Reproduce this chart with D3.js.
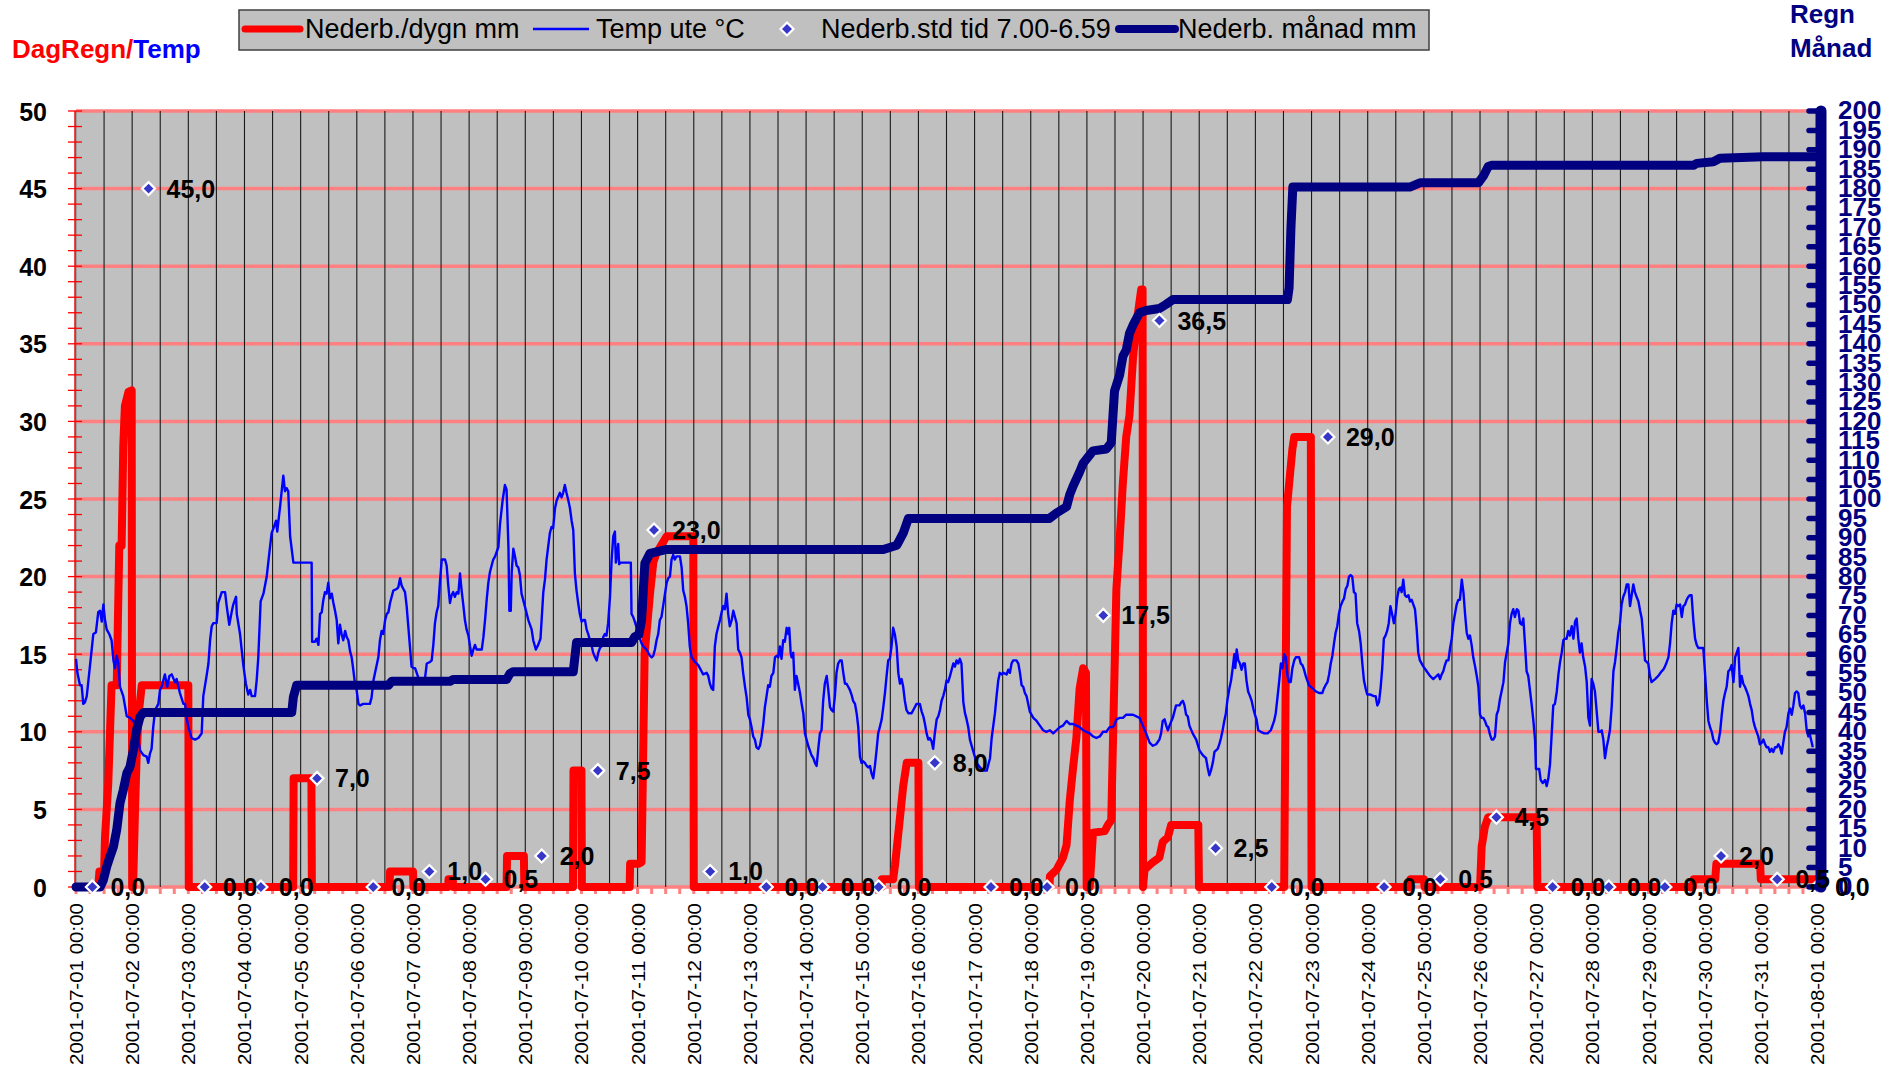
<!DOCTYPE html>
<html><head><meta charset="utf-8">
<script src="https://cdn.jsdelivr.net/npm/d3@7"></script>
<style>
body{margin:0;background:#fff}
svg{display:block}
text{font-family:Arial,"Liberation Sans",Helvetica,sans-serif}
</style>
</head><body>
<svg id="chart" width="1898" height="1075"></svg>
<script>
// ---------------- DATA ----------------
const startDate = "2001-07-01 00:00";
const endDate = "2001-08-01 00:00";
const leftTicks = [0,5,10,15,20,25,30,35,40,45,50];
const rightTicks = d3.range(0, 201, 5);

// Temp ute °C : [hours since 2001-07-01 00:00, °C]
const tempSeries = [
[0,14.7],[0.6,13.8],[1.7,13.0],[2.4,13.0],[3.1,11.8],[3.8,11.9],[4.6,12.3],[5.3,13.3],[6.7,15.3],[7.4,16.3],[8.5,16.4],[9.5,17.7],[10.3,17.8],[11.0,17.1],[11.7,18.2],[12.4,17.2],[13.1,16.6],[14.2,16.3],[15.2,15.9],[16.0,14.6],[16.7,14.1],[17.4,14.9],[18.1,14.4],[18.8,12.9],[20.2,12.3],[21.7,11.0],[23.1,10.9],[24.5,10.7],[25.2,10.5],[26.6,9.5],[27.4,8.8],[28.8,8.5],[30.2,8.4],[30.9,8.0],[31.6,8.6],[32.3,8.9],[33.0,10.3],[33.8,11.4],[35.2,11.8],[35.9,12.7],[36.6,12.9],[38.0,13.7],[39.0,12.9],[39.9,13.6],[40.9,13.7],[42.3,13.2],[43.0,13.4],[44.4,12.5],[45.9,11.8],[46.6,11.8],[47.3,10.9],[48.0,10.3],[49.4,9.6],[50.9,9.5],[52.3,9.6],[53.7,9.9],[54.4,12.3],[55.8,13.6],[56.6,14.4],[57.3,15.9],[58.0,16.8],[58.7,17.0],[60.1,17.0],[60.8,18.3],[62.3,19.0],[63.7,19.0],[64.4,18.1],[65.5,16.9],[66.5,17.7],[67.2,18.2],[68.4,18.7],[68.7,17.6],[70.1,16.3],[70.8,15.3],[71.5,14.3],[72.6,13.1],[73.6,12.4],[74.4,12.7],[75.1,12.3],[76.5,12.3],[77.2,13.3],[77.9,14.8],[78.9,18.4],[80.1,18.9],[81.5,20.0],[82.6,21.5],[83.6,22.8],[84.6,23.2],[85.5,23.6],[86.0,22.9],[87.2,24.5],[87.9,25.5],[88.6,26.5],[89.3,25.5],[90.0,25.7],[90.7,25.5],[91.5,22.6],[92.9,20.9],[100.7,20.9],[100.9,15.8],[102.1,15.8],[102.8,16.0],[103.6,15.6],[104.3,17.6],[105.0,17.7],[105.7,18.5],[106.4,19.0],[107.1,18.9],[107.8,19.6],[108.5,18.6],[109.3,18.9],[110.0,18.3],[110.7,17.8],[111.4,17.2],[112.1,15.7],[112.8,16.9],[113.5,16.3],[114.2,15.9],[115.0,16.5],[115.7,16.1],[116.4,15.9],[117.1,15.2],[117.8,14.8],[118.5,14.0],[119.2,13.1],[119.9,12.7],[120.7,11.8],[121.4,11.7],[122.8,11.8],[124.2,11.8],[125.6,11.8],[126.3,12.2],[127.1,13.3],[127.8,13.8],[129.2,14.8],[129.9,15.9],[130.6,16.5],[131.3,16.3],[132.1,17.2],[132.8,17.6],[133.5,17.7],[134.2,18.3],[135.6,19.1],[137.0,19.2],[137.7,19.3],[138.5,19.9],[139.2,19.4],[139.9,19.2],[140.6,19.0],[141.3,18.1],[142.0,16.8],[142.7,15.5],[143.4,14.2],[144.2,14.1],[144.9,14.1],[145.6,13.8],[146.7,13.3],[147.7,13.4],[148.4,13.3],[149.1,13.4],[149.9,14.4],[151.3,14.5],[152.0,14.6],[152.7,15.6],[153.4,17.0],[154.1,17.7],[154.8,18.1],[155.6,19.8],[156.3,21.1],[157.7,21.1],[158.4,20.7],[159.1,19.4],[159.8,18.3],[160.5,18.8],[161.2,19.0],[161.9,18.7],[162.7,19.0],[163.4,18.9],[164.1,20.2],[164.8,19.1],[165.5,18.2],[166.2,17.2],[166.9,16.6],[167.7,16.2],[168.4,15.5],[169.1,14.9],[169.8,15.3],[170.5,15.6],[171.2,15.3],[172.6,15.3],[173.4,15.3],[174.1,16.1],[174.8,17.2],[175.5,18.5],[176.2,19.6],[176.9,20.3],[178.3,21.1],[179.1,21.3],[179.8,21.6],[180.5,21.9],[181.2,23.4],[182.3,24.9],[183.3,25.9],[184.0,25.6],[184.8,21.9],[185.2,17.8],[185.8,17.8],[186.2,20.3],[186.9,21.8],[187.6,21.3],[188.3,20.7],[189.0,20.6],[189.7,20.1],[190.4,18.9],[191.8,18.1],[193.3,17.2],[194.7,16.6],[195.4,15.9],[196.5,15.3],[197.5,15.6],[198.5,16.0],[199.7,19.0],[200.4,19.8],[201.1,21.1],[202.5,22.8],[203.2,23.2],[203.9,23.1],[204.7,24.4],[205.4,24.9],[206.8,25.4],[207.5,25.1],[208.2,25.4],[208.9,25.9],[209.6,25.4],[210.4,24.9],[211.1,24.4],[211.8,23.6],[212.5,23.0],[213.2,20.2],[213.9,19.1],[214.6,18.3],[215.3,17.6],[216.1,17.1],[216.8,17.2],[217.5,17.2],[218.2,16.6],[218.9,16.3],[219.6,15.9],[220.3,15.6],[221.0,15.1],[221.8,14.8],[222.5,14.6],[223.2,15.1],[223.9,15.4],[224.6,15.5],[225.3,16.1],[226.0,16.3],[226.7,16.2],[227.4,17.0],[228.2,18.7],[228.9,21.1],[229.6,22.6],[230.3,22.9],[230.7,20.9],[231.3,21.5],[231.7,22.1],[232.1,20.8],[232.7,20.9],[237.1,20.9],[237.4,17.6],[238.1,17.4],[238.8,17.1],[239.6,16.7],[240.3,16.3],[241.7,15.7],[242.4,15.5],[243.1,15.4],[243.8,15.3],[244.5,15.1],[245.3,14.9],[246.0,14.8],[246.7,14.9],[247.4,15.3],[248.1,15.9],[248.8,16.3],[249.5,17.2],[250.2,17.4],[250.9,18.1],[251.7,18.9],[252.4,19.6],[253.1,19.9],[253.8,20.0],[254.5,21.1],[255.2,21.4],[255.9,21.1],[256.6,21.3],[258.1,21.3],[258.8,20.6],[259.5,19.1],[260.2,18.7],[260.9,18.1],[261.6,17.0],[262.3,15.5],[263.1,14.8],[264.5,14.5],[265.9,14.3],[266.6,14.1],[267.3,13.9],[268.0,13.7],[269.5,13.8],[270.2,13.6],[270.9,13.1],[271.6,12.8],[272.3,12.7],[273.0,15.5],[273.7,16.3],[274.5,16.8],[275.2,17.2],[275.9,17.7],[276.6,18.1],[277.3,17.9],[278.0,18.9],[278.7,17.6],[279.4,16.8],[280.2,17.2],[280.9,17.8],[281.6,17.4],[282.3,17.0],[283.0,15.3],[283.7,15.1],[284.4,14.8],[285.1,13.8],[285.9,12.9],[286.6,12.2],[287.3,11.1],[288.0,10.8],[288.7,10.3],[289.4,9.7],[290.1,9.5],[290.8,9.0],[291.6,8.9],[292.3,9.1],[293.0,9.7],[293.7,10.5],[294.4,11.6],[295.1,12.3],[295.8,13.0],[296.5,12.9],[297.2,13.6],[298.0,13.8],[298.7,14.8],[299.4,14.9],[300.1,14.8],[300.8,15.5],[301.5,14.7],[302.2,15.9],[302.9,15.8],[303.7,16.7],[304.4,16.3],[304.8,16.7],[305.4,15.1],[305.8,14.8],[306.5,15.1],[307.2,12.7],[307.9,13.6],[308.6,13.1],[309.4,12.5],[310.1,11.8],[310.8,11.2],[311.5,9.9],[312.2,9.5],[312.9,9.1],[313.6,8.8],[314.3,8.5],[315.1,8.3],[315.8,8.0],[316.5,7.8],[317.2,8.9],[317.9,9.9],[318.6,10.1],[319.3,12.0],[320.0,13.1],[320.8,13.6],[321.5,12.7],[322.2,11.6],[322.9,11.4],[323.6,11.3],[324.3,12.3],[325.0,13.8],[325.7,14.4],[326.5,14.6],[327.2,14.6],[327.9,13.8],[328.6,13.1],[329.3,13.1],[330.0,12.9],[330.7,12.7],[331.4,12.4],[332.1,12.0],[332.9,11.8],[333.6,11.2],[334.3,10.3],[335.0,8.4],[335.7,8.0],[336.4,8.1],[337.1,8.0],[337.9,7.8],[338.6,7.7],[339.3,7.8],[340.0,7.3],[340.7,7.0],[341.4,7.8],[342.1,8.8],[342.8,9.9],[343.5,10.3],[344.3,10.8],[345.0,11.6],[345.7,12.5],[346.4,13.6],[347.1,14.6],[347.8,14.7],[348.5,15.5],[349.2,16.7],[349.9,16.3],[350.7,15.5],[351.4,13.8],[352.1,13.1],[352.8,13.4],[353.5,12.9],[354.2,12.0],[354.9,11.4],[355.7,11.2],[357.1,11.2],[358.5,11.6],[359.2,11.8],[360.6,11.8],[361.4,11.3],[362.1,11.0],[362.8,10.5],[363.5,9.9],[364.2,9.5],[364.9,9.6],[365.6,9.4],[366.3,8.9],[367.0,9.9],[367.8,10.8],[368.5,11.0],[369.2,11.4],[369.9,12.0],[370.6,12.3],[371.3,12.7],[372.0,13.3],[372.7,13.2],[373.5,13.6],[374.2,14.0],[374.9,14.4],[375.6,14.2],[376.3,14.6],[377.0,14.4],[377.7,14.7],[378.4,14.4],[379.2,11.9],[379.9,11.2],[380.6,10.8],[381.3,10.3],[382.0,9.5],[383.5,8.7],[384.9,8.0],[386.3,7.7],[387.7,7.5],[389.2,7.5],[390.6,8.3],[391.3,9.6],[392.0,10.4],[392.7,11.2],[393.4,12.3],[394.1,13.3],[394.8,13.8],[395.6,13.7],[396.3,13.8],[397.7,13.7],[398.4,14.0],[399.1,13.8],[399.8,14.4],[400.5,14.6],[401.9,14.6],[402.7,14.4],[403.4,13.8],[404.1,13.0],[404.8,12.9],[405.5,12.5],[406.2,12.3],[407.6,11.3],[409.1,10.9],[410.5,10.7],[411.9,10.4],[413.3,10.1],[414.7,10.0],[416.2,10.1],[417.6,9.9],[419.0,10.1],[420.4,10.3],[421.8,10.4],[423.3,10.7],[424.7,10.5],[426.1,10.5],[427.5,10.4],[428.9,10.3],[430.4,10.1],[431.8,10.0],[433.2,9.9],[434.6,9.7],[436.0,9.6],[437.5,9.7],[438.9,10.0],[440.3,10.0],[441.7,10.3],[443.1,10.3],[443.9,10.5],[444.6,10.8],[446.0,10.9],[447.4,10.9],[448.8,11.1],[451.7,11.1],[454.5,10.9],[455.9,10.4],[457.3,9.9],[458.8,9.3],[460.2,9.1],[461.6,9.2],[463.0,9.5],[463.7,9.9],[464.4,10.7],[465.2,10.8],[465.9,10.4],[466.6,10.1],[467.3,10.4],[468.7,10.9],[470.1,11.7],[471.6,11.7],[472.3,11.9],[473.0,12.0],[473.7,11.7],[474.4,11.1],[475.1,11.0],[475.8,10.4],[477.2,9.9],[478.7,9.5],[480.1,8.8],[481.5,8.5],[482.9,8.3],[483.6,7.7],[484.3,7.2],[485.0,7.5],[485.8,8.0],[486.5,8.7],[487.9,8.9],[488.6,9.2],[489.3,9.6],[490.0,10.1],[490.7,10.7],[491.4,11.2],[492.1,12.1],[492.9,12.8],[493.6,13.3],[494.3,14.1],[495.0,15.0],[495.4,14.1],[496.0,15.3],[496.7,14.6],[497.4,14.4],[498.1,14.0],[498.8,14.4],[499.5,14.4],[500.2,13.3],[500.9,12.6],[501.7,12.3],[502.4,12.0],[503.1,11.5],[503.8,11.1],[504.5,10.8],[505.2,10.1],[506.3,10.0],[507.8,9.9],[509.2,9.9],[510.6,10.1],[512.0,10.7],[512.7,11.2],[513.5,12.3],[514.2,13.3],[514.9,14.4],[515.6,14.1],[516.3,15.0],[517.0,14.8],[517.7,13.6],[518.4,13.2],[519.1,13.2],[519.8,14.1],[520.6,14.6],[521.3,14.8],[522.7,14.8],[523.4,14.4],[524.1,14.3],[524.8,14.0],[525.5,13.6],[526.2,13.3],[526.9,13.0],[528.4,12.8],[529.8,12.6],[531.2,12.5],[532.6,12.5],[533.3,12.8],[534.0,13.0],[534.8,13.2],[535.5,13.7],[536.2,14.4],[536.9,14.9],[537.6,15.7],[538.3,16.4],[539.0,16.8],[539.7,17.6],[540.4,18.1],[541.2,18.4],[541.9,18.6],[542.6,19.2],[543.3,19.4],[544.0,20.0],[544.7,20.1],[545.4,20.0],[546.1,19.0],[546.8,18.9],[547.5,17.0],[548.3,16.5],[549.0,15.7],[549.7,14.4],[550.4,13.3],[551.1,12.8],[551.8,12.4],[553.2,12.4],[554.6,12.3],[555.4,12.3],[556.1,11.7],[556.8,11.9],[557.5,12.8],[558.2,14.1],[558.9,16.0],[559.6,16.2],[560.3,16.5],[561.0,17.0],[561.7,18.1],[562.4,17.6],[563.2,17.0],[563.9,17.6],[564.6,18.6],[565.3,19.2],[566.0,19.3],[566.5,19.0],[567.2,19.8],[567.9,18.8],[568.6,18.7],[569.4,18.8],[570.1,18.4],[570.8,18.5],[571.5,18.2],[572.2,17.9],[572.9,16.7],[573.6,15.1],[574.3,14.6],[575.8,14.2],[577.2,13.9],[578.6,13.6],[580.0,13.4],[581.5,13.6],[582.2,13.7],[582.9,13.4],[583.6,13.7],[584.3,13.9],[585.0,14.3],[585.7,14.6],[586.5,14.6],[587.2,15.4],[587.9,16.0],[588.6,17.0],[589.3,17.6],[590.0,18.2],[590.7,18.5],[591.4,18.5],[592.2,19.8],[592.9,19.0],[593.6,17.6],[594.3,16.4],[595.0,16.0],[595.7,16.2],[596.4,15.6],[597.1,14.8],[597.9,14.2],[598.6,13.6],[599.3,12.9],[600.0,11.1],[600.7,10.9],[601.4,10.9],[602.1,10.7],[602.8,10.4],[603.5,10.3],[604.3,9.8],[605.0,9.5],[605.7,9.5],[606.4,9.7],[607.1,11.1],[607.8,11.4],[608.5,12.1],[609.2,12.6],[610.0,13.2],[610.7,14.5],[611.4,15.1],[612.1,15.7],[612.8,17.0],[613.5,17.6],[614.2,17.9],[614.9,17.4],[615.7,17.9],[616.4,17.8],[617.1,17.0],[617.8,16.9],[618.5,17.3],[619.2,15.7],[619.9,13.9],[620.6,13.6],[621.4,12.6],[622.1,11.7],[622.8,10.7],[623.5,9.5],[623.9,7.6],[624.5,7.6],[625.3,7.6],[625.9,6.9],[626.8,6.7],[627.8,6.9],[628.5,6.5],[629.2,7.0],[629.9,7.9],[630.6,9.8],[631.3,11.7],[632.0,11.8],[632.8,12.6],[633.5,13.7],[634.2,14.5],[634.9,15.1],[635.6,15.9],[636.3,16.0],[637.0,16.0],[637.7,16.5],[638.4,16.2],[639.2,16.8],[639.9,16.0],[640.6,17.1],[641.3,17.3],[642.0,16.0],[642.7,15.1],[643.4,15.7],[644.1,14.8],[644.9,14.2],[645.6,13.2],[646.3,10.9],[647.0,10.4],[647.7,13.4],[648.4,13.1],[649.1,12.6],[649.8,11.4],[650.6,10.0],[651.3,10.0],[652.0,10.1],[652.7,9.5],[653.4,8.3],[654.1,9.0],[654.8,9.5],[655.5,10.1],[656.3,11.7],[657.0,13.9],[657.7,14.5],[658.4,15.4],[659.1,16.4],[659.8,17.0],[660.5,18.2],[661.2,18.7],[662.0,19.0],[662.7,19.5],[663.4,19.5],[664.1,18.1],[664.8,18.8],[665.5,19.5],[666.2,19.0],[666.9,18.7],[667.7,18.4],[668.4,17.8],[669.1,17.3],[669.8,16.0],[670.5,14.6],[671.2,14.5],[671.9,14.4],[672.6,13.6],[673.3,13.2],[674.8,13.4],[676.2,13.6],[677.6,13.9],[678.3,14.0],[679.0,14.2],[679.8,14.5],[680.5,14.8],[681.2,15.7],[681.9,17.0],[682.6,17.8],[683.3,17.6],[684.0,18.2],[684.7,18.1],[685.5,18.2],[686.2,17.4],[686.9,18.1],[687.6,18.2],[688.3,18.5],[689.0,18.7],[689.7,18.8],[690.4,18.8],[691.2,17.1],[691.9,16.0],[692.6,15.6],[693.3,15.4],[695.4,15.4],[696.1,13.9],[696.9,12.0],[697.6,10.7],[698.3,10.3],[699.0,10.0],[699.7,9.5],[700.4,9.3],[701.1,9.2],[701.8,9.3],[702.6,10.0],[703.3,11.1],[704.0,12.0],[704.7,12.5],[705.4,12.9],[706.1,13.9],[706.8,14.0],[707.5,14.3],[708.3,13.2],[709.0,14.8],[709.7,15.1],[710.4,15.4],[711.1,12.9],[711.8,13.6],[712.5,13.1],[713.2,12.9],[714.0,12.6],[714.7,12.3],[715.4,11.8],[716.1,11.4],[716.8,10.7],[717.5,10.3],[718.2,10.0],[718.9,9.7],[719.6,9.2],[720.4,9.3],[721.1,9.5],[721.8,9.2],[722.5,9.0],[723.2,9.0],[723.9,8.7],[724.6,8.9],[725.3,8.7],[726.1,9.0],[726.8,9.0],[727.5,9.2],[728.2,9.0],[728.9,8.6],[729.6,9.3],[730.3,10.0],[731.0,10.3],[731.8,11.2],[732.5,11.5],[733.2,11.1],[733.9,11.7],[734.6,12.5],[735.3,12.6],[736.0,12.5],[736.7,11.7],[737.4,11.5],[738.2,11.7],[738.9,11.2],[739.6,10.1],[740.3,9.7],[741.0,9.8],[742.2,9.0]
];

// Nederb./dygn mm : [hours, mm]
const rainDaySeries = [
[0,0],[9.5,0],[10,1],[12,1],[12.4,3.2],[13.8,6.7],[15.2,13],[17.4,13],[18.5,22],[19.5,22],[20.2,28.4],[20.9,31],[22.4,31.9],[23.8,32],[24,0],[24.4,0],[25.2,4.8],[25.9,8.3],[26.7,11.1],[27.4,12],[28.1,13],[48,13],[48.2,0],[92.8,0],[93,7],[100.6,7],[100.8,0],[134,0],[134.2,1],[144,1],[144.2,0],[159,0],[159.2,0.5],[161,0.5],[161.2,0],[184,0],[184.2,2],[191.4,2],[191.6,0],[212.4,0],[212.6,7.5],[216,7.5],[216.2,0],[236.6,0],[236.8,1.5],[240.5,1.5],[241.7,1.6],[243,15],[245.3,18.9],[246.7,20.9],[248,21.5],[252.4,22.6],[263.8,22.6],[264,0],[344.2,0],[344.4,0.5],[349.2,0.5],[350,1.4],[352,4.3],[353.5,6.5],[355,8],[360,8],[360.2,0],[416,0],[416.2,0.7],[419,1.1],[421.8,1.9],[423.3,2.7],[424.7,5.6],[426.1,7.7],[427.5,9.6],[428.9,12.8],[430.4,14.1],[431.6,13.8],[431.9,0],[433.2,0],[434.6,3.5],[439.6,3.6],[441,4],[442.4,4.3],[443.1,9.1],[444.6,19.2],[446,22.4],[447.4,26.1],[448.8,29],[450.2,30.4],[451.7,34.1],[453.1,36.2],[455.2,38.5],[455.8,38.5],[456,0],[456.6,1.1],[460.2,1.6],[463,1.9],[464.4,2.9],[466.6,3.2],[468,4],[479.6,4],[479.9,0],[516.3,0],[517.5,24.5],[519.8,28.2],[520.6,29],[527.7,29],[528,0],[570,0],[570.3,0.5],[576,0.5],[576.3,0],[600,0],[600.7,2.6],[602.1,3.9],[603.5,4.5],[624.2,4.5],[624.5,0],[691,0],[691.3,0.5],[700.5,0.5],[701,1.5],[719.7,1.5],[720,0.5],[744,0.5]
];

// Nederb. månad mm (right axis) : [hours, mm]
const rainMonthSeries = [
[0,0],[10.3,0],[11.7,1.8],[13.1,5.2],[14.5,7.8],[16,10.4],[17.4,14.7],[18.8,21.6],[20.2,25],[21.7,29.3],[23.1,31],[24.5,35.3],[25.9,40.5],[27.4,43.9],[28.8,45],[92.2,45],[92.9,49],[94.3,52],[133.5,52],[134.9,53],[159.8,53],[161.2,53.5],[184,53.5],[185.4,55],[186.8,55.5],[212.5,55.5],[213.9,63],[237.4,63],[238.8,64.5],[240.5,65],[241.7,68.8],[243.1,83.4],[245.3,86],[248.1,86.4],[252.4,87],[345,87],[350.8,88.1],[353.5,91.2],[355.7,95],[416,95],[419,96.4],[423.3,98],[424.7,101.2],[426.1,103.3],[428.9,107],[430.4,109.2],[434.6,112.4],[440.3,112.9],[442.4,114.5],[443.8,127.8],[446,132],[447.4,136.8],[448.8,138.4],[450.2,142.7],[451.7,144.8],[454.5,148],[457.3,148.6],[463,149.1],[465.9,150.2],[468.7,151.4],[517.7,151.4],[518.4,154.4],[519.2,170],[520,180.4],[570,180.4],[574.3,181.5],[599.3,181.5],[601.4,183.2],[603.5,185.7],[605,186],[691.2,186],[692.6,186.5],[699.7,186.9],[702.5,187.8],[721,188.2],[744,188.2]
];

// Nederb.std tid 7.00-6.59 (daily totals)
const dailyDates = ["2001-07-01 07:00","2001-07-02 07:00","2001-07-03 07:00","2001-07-04 07:00","2001-07-05 07:00","2001-07-06 07:00","2001-07-07 07:00","2001-07-08 07:00","2001-07-09 07:00","2001-07-10 07:00","2001-07-11 07:00","2001-07-12 07:00","2001-07-13 07:00","2001-07-14 07:00","2001-07-15 07:00","2001-07-16 07:00","2001-07-17 07:00","2001-07-18 07:00","2001-07-19 07:00","2001-07-20 07:00","2001-07-21 07:00","2001-07-22 07:00","2001-07-23 07:00","2001-07-24 07:00","2001-07-25 07:00","2001-07-26 07:00","2001-07-27 07:00","2001-07-28 07:00","2001-07-29 07:00","2001-07-30 07:00","2001-07-31 07:00","2001-08-01 00:00"];
const dailyValues = [0,45,0,0,7,0,1,0.5,2,7.5,23,1,0,0,0,8,0,0,17.5,36.5,2.5,0,29,0,0.5,4.5,0,0,0,2,0.5,0];

const legendLabels = ["Nederb./dygn mm","Temp ute °C","Nederb.std tid 7.00-6.59","Nederb. månad mm"];

// ---------------- CHART ----------------
const parse = d3.utcParse("%Y-%m-%d %H:%M");
const t0 = parse(startDate), t1 = parse(endDate);
const hourToDate = h => new Date(+t0 + h * 3600000);

const L = 76, R = 1817, T = 111, B = 887;
const x = d3.scaleUtc().domain([t0, t1]).range([L, R]);
const yL = d3.scaleLinear().domain([0, 50]).range([B, T]);
const yR = d3.scaleLinear().domain([0, 200]).range([B, T]);

const RED = "#FF0000", BLUE = "#0000FF", NAVY = "#000080", PINK = "#FF8080";
const svg = d3.select("#chart");

// plot background
svg.append("rect").attr("x", L).attr("y", T).attr("width", R - L).attr("height", B - T).attr("fill", "#C0C0C0");

// horizontal grid (left axis major)
svg.append("g").selectAll("line").data(leftTicks).join("line")
  .attr("x1", L).attr("x2", R).attr("y1", d => yL(d)).attr("y2", d => yL(d))
  .attr("stroke", PINK).attr("stroke-width", 3.5);

// vertical grid every 12h
const halfDays = d3.utcHour.every(12).range(t0, t1).slice(1);
svg.append("g").selectAll("line").data(halfDays).join("line")
  .attr("x1", d => x(d)).attr("x2", d => x(d)).attr("y1", T).attr("y2", B)
  .attr("stroke", "#1a1a1a").attr("stroke-width", 1.1);

// bottom minor ticks every 6h
svg.append("g").selectAll("line").data(d3.utcHour.every(6).range(t0, d3.utcHour.offset(t1, 1))).join("line")
  .attr("x1", d => x(d)).attr("x2", d => x(d)).attr("y1", B).attr("y2", B + 7)
  .attr("stroke", PINK).attr("stroke-width", 3);

// left axis
svg.append("line").attr("x1", L - 0.5).attr("x2", L - 0.5).attr("y1", T).attr("y2", B).attr("stroke", "#808080").attr("stroke-width", 2);
svg.append("line").attr("x1", L - 1).attr("x2", L - 1).attr("y1", T).attr("y2", B).attr("stroke", RED).attr("stroke-width", 1.2);
svg.append("g").selectAll("line").data(d3.range(0, 51, 1)).join("line")
  .attr("x1", 68).attr("x2", 82).attr("y1", d => yL(d)).attr("y2", d => yL(d))
  .attr("stroke", RED).attr("stroke-width", 1.3);
const leftAxis = d3.axisLeft(yL).tickValues(leftTicks).tickSize(0).tickPadding(0).tickFormat(d3.format("d"));
const gL = svg.append("g").attr("transform", "translate(47,0)").call(leftAxis);
gL.select(".domain").remove();
gL.selectAll("text").attr("font-size", 25).attr("font-weight", "bold").attr("fill", "#000")
  .attr("font-family", "Arial, 'Liberation Sans', sans-serif").attr("dy", "0.36em");

// bottom axis labels
const bottomAxis = d3.axisBottom(x).ticks(d3.utcDay.every(1)).tickSize(0).tickFormat(d3.utcFormat("%Y-%m-%d %H:%M"));
const gB = svg.append("g").attr("transform", `translate(0,${B})`).call(bottomAxis);
gB.select(".domain").remove();
gB.selectAll(".tick text")
  .attr("font-size", 18).attr("fill", "#000").attr("font-family", "Arial, 'Liberation Sans', sans-serif")
  .attr("text-anchor", "end").attr("transform", "rotate(-90)")
  .attr("x", -16).attr("y", 0).attr("dy", "0.36em")
  .attr("textLength", 162).attr("lengthAdjust", "spacingAndGlyphs");

// series
const lineL = d3.line().x(d => x(hourToDate(d[0]))).y(d => yL(d[1]));
const lineR = d3.line().x(d => x(hourToDate(d[0]))).y(d => yR(d[1]));

svg.append("path").datum(rainDaySeries).attr("d", lineL).attr("fill", "none")
  .attr("stroke", RED).attr("stroke-width", 8).attr("stroke-linejoin", "round").attr("stroke-linecap", "round");
svg.append("path").datum(tempSeries).attr("d", lineL).attr("fill", "none")
  .attr("stroke", BLUE).attr("stroke-width", 2.4).attr("stroke-linejoin", "round");
svg.append("path").datum(rainMonthSeries).attr("d", lineR).attr("fill", "none")
  .attr("stroke", NAVY).attr("stroke-width", 9).attr("stroke-linejoin", "round").attr("stroke-linecap", "round");

// diamonds
const diamondPath = "M0,-6.5L6.5,0L0,6.5L-6.5,0Z";
const daily = dailyDates.map((d, i) => ({ t: parse(d), v: dailyValues[i] }));
svg.append("g").selectAll("path").data(daily).join("path")
  .attr("d", diamondPath)
  .attr("transform", d => `translate(${x(d.t)},${yL(d.v)})`)
  .attr("fill", "#3636C8").attr("stroke", "#fff").attr("stroke-width", 2.2);

// right axis
svg.append("g").selectAll("line").data(rightTicks).join("line")
  .attr("x1", 1809).attr("x2", 1818).attr("y1", d => yR(d)).attr("y2", d => yR(d))
  .attr("stroke", NAVY).attr("stroke-width", 5.5).attr("stroke-linecap", "round");
svg.append("line").attr("x1", 1821).attr("x2", 1821).attr("y1", T).attr("y2", B)
  .attr("stroke", NAVY).attr("stroke-width", 11).attr("stroke-linecap", "round");
const rightAxis = d3.axisRight(yR).tickValues(rightTicks).tickSize(0).tickPadding(0).tickFormat(d3.format("d"));
const gR = svg.append("g").attr("transform", "translate(1838,0)").call(rightAxis);
gR.select(".domain").remove();
gR.selectAll("text").attr("font-size", 26).attr("font-weight", "bold").attr("fill", NAVY)
  .attr("font-family", "Arial, 'Liberation Sans', sans-serif").attr("dy", "0.3em").attr("x", 0);

// data labels
const fmt = v => d3.format(".1f")(v).replace(".", ",");
svg.append("g").selectAll("text").data(daily).join("text")
  .attr("x", d => x(d.t) + 18).attr("y", d => yL(d.v) + 9)
  .attr("font-size", 25).attr("font-weight", "bold").attr("fill", "#000")
  .text(d => fmt(d.v));

// titles
const title = svg.append("text").attr("x", 12).attr("y", 58).attr("font-size", 26).attr("font-weight", "bold");
title.append("tspan").attr("fill", RED).text("DagRegn/");
title.append("tspan").attr("fill", BLUE).text("Temp");
svg.append("text").attr("x", 1790).attr("y", 23).attr("font-size", 26).attr("font-weight", "bold").attr("fill", NAVY).text("Regn");
svg.append("text").attr("x", 1790).attr("y", 57).attr("font-size", 26).attr("font-weight", "bold").attr("fill", NAVY).text("Månad");

// legend
const lg = svg.append("g");
lg.append("rect").attr("x", 239).attr("y", 10).attr("width", 1190).attr("height", 40)
  .attr("fill", "#C0C0C0").attr("stroke", "#404040").attr("stroke-width", 1.5);
const ly = 29;
lg.append("line").attr("x1", 245).attr("x2", 300).attr("y1", ly).attr("y2", ly).attr("stroke", RED).attr("stroke-width", 7).attr("stroke-linecap", "round");
lg.append("line").attr("x1", 533).attr("x2", 589).attr("y1", ly).attr("y2", ly).attr("stroke", BLUE).attr("stroke-width", 2.5);
lg.append("path").attr("d", diamondPath).attr("transform", `translate(787,${ly})`).attr("fill", "#3636C8").attr("stroke", "#fff").attr("stroke-width", 2.2);
lg.append("line").attr("x1", 1119).attr("x2", 1175).attr("y1", ly).attr("y2", ly).attr("stroke", NAVY).attr("stroke-width", 8).attr("stroke-linecap", "round");
const lx = [305, 596, 821, 1178];
lg.selectAll("text.lt").data(legendLabels).join("text").attr("class", "lt")
  .attr("x", (d, i) => lx[i]).attr("y", 38).attr("font-size", 27).attr("fill", "#000").text(d => d);
</script>
</body></html>
